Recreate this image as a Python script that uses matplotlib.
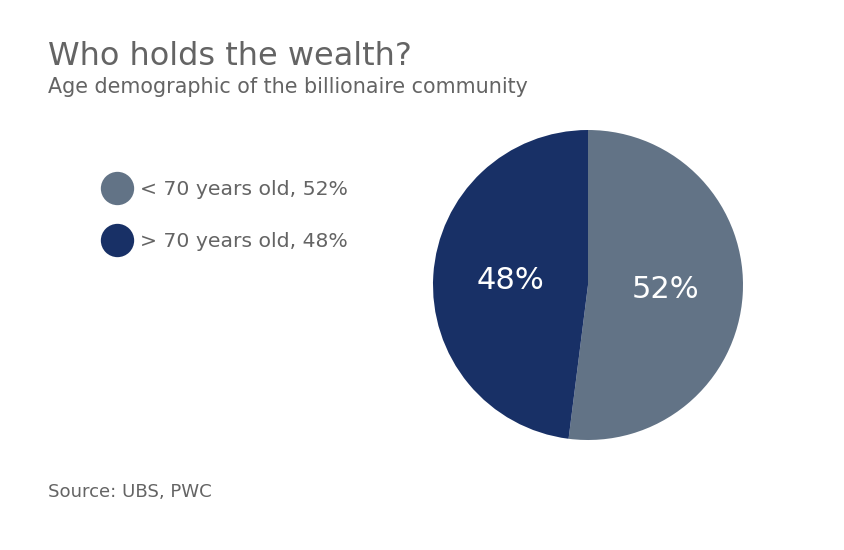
import matplotlib.pyplot as plt
from matplotlib.lines import Line2D

plt.rcParams['font.family'] = ['DejaVu Sans']

# datos
grupos = ['< 70 years old', '> 70 years old']
porcentajes = [52, 48]
colores = ['#627386', '#183066']

gris_texto = '#646464'

fig = plt.figure(figsize=(8.44, 5.5), dpi=100)

fig.text(48 / 844, 1 - 65 / 550, 'Who holds the wealth?', fontsize=23, color=gris_texto,
         ha='left', va='baseline')
fig.text(48 / 844, 1 - 93 / 550, 'Age demographic of the billionaire community', fontsize=14.9,
         color=gris_texto, ha='left', va='baseline')
fig.text(48 / 844, 1 - 497 / 550, 'Source: UBS, PWC', fontsize=13.1, color=gris_texto,
         ha='left', va='baseline')

# pastel centrado en (588, 285) px con radio 155 px
cx, cy, r = 588, 285, 155
ax = fig.add_axes([(cx - r) / 844, 1 - (cy + r) / 550, 2 * r / 844, 2 * r / 550])
wedges, textos, autotextos = ax.pie(porcentajes, colors=colores, startangle=90, counterclock=False,
                                    autopct='%d%%', pctdistance=0.5, radius=1,
                                    wedgeprops=dict(linewidth=0))
for t in autotextos:
    t.set_color('white')
    t.set_fontsize(22)
ax.set_xlim(-1, 1)
ax.set_ylim(-1, 1)
ax.set_aspect('equal')
ax.axis('off')

# leyenda con circulos
handles = [Line2D([0], [0], marker='o', linestyle='none', markersize=24,
                  markerfacecolor=c, markeredgewidth=0) for c in colores]
etiquetas = ['%s, %d%%' % (g, p) for g, p in zip(grupos, porcentajes)]
leg = fig.legend(handles, etiquetas, loc='upper left', bbox_to_anchor=(92 / 844, 1 - 170 / 550),
                 frameon=False, fontsize=14.7, labelspacing=1.6, handletextpad=0.45,
                 handlelength=1.4, borderpad=0)
for t in leg.get_texts():
    t.set_color(gris_texto)

fig.savefig('out.png', dpi=100)
